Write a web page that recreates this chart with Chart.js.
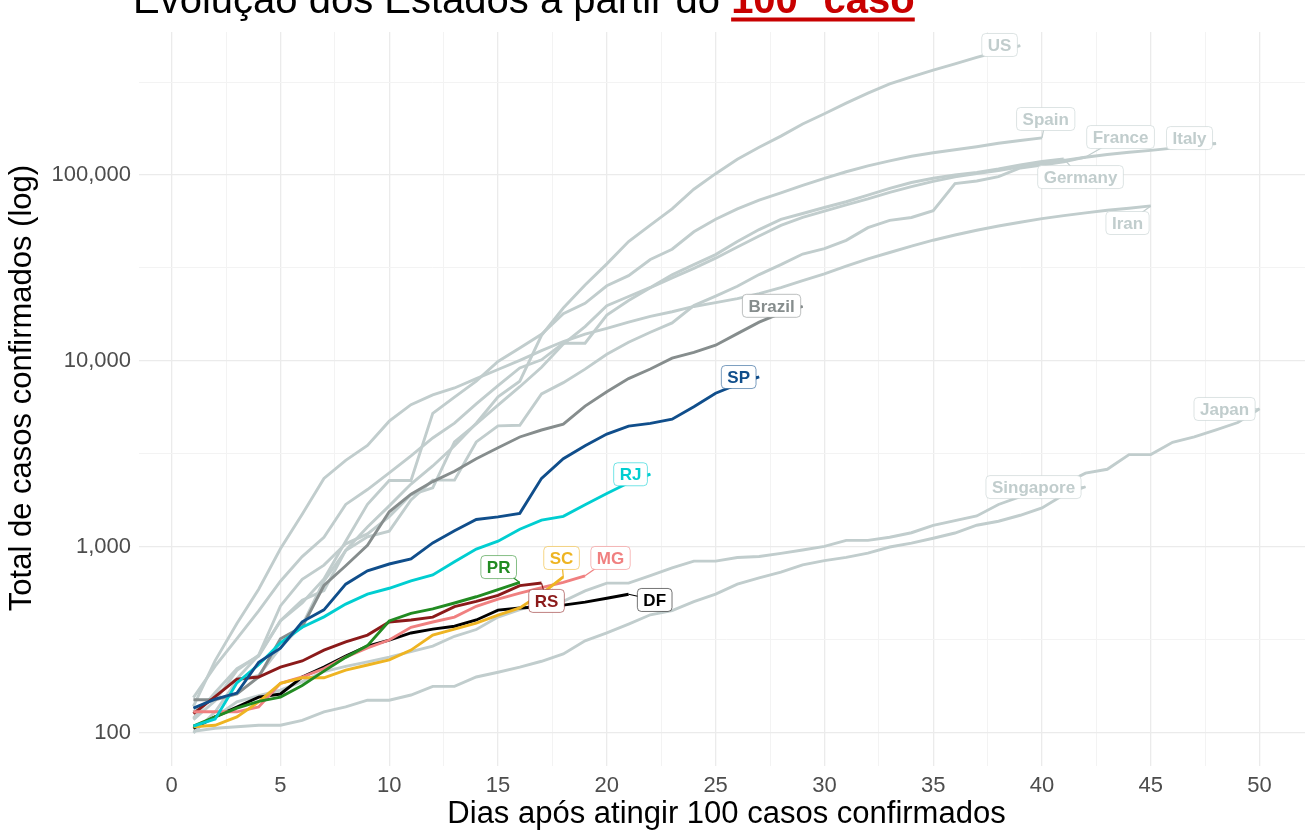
<!DOCTYPE html>
<html>
<head>
<meta charset="utf-8">
<script src="https://cdn.jsdelivr.net/npm/chart.js@4.4.1/dist/chart.umd.min.js"></script>
<style>
  html, body { margin: 0; padding: 0; background: #fff; overflow: hidden; }
  #wrap { position: absolute; left: 0; top: 0; width: 1314px; height: 831px; }
</style>
</head>
<body>
<div id="wrap"><canvas id="chart" width="1314" height="831"></canvas></div>
<script>
// total de casos, dia 1 = primeiro dia com 100+ casos
const spCases = [136, 152, 164, 240, 286, 396, 459, 631, 745, 810, 862, 1052, 1223, 1406, 1451, 1517,
  2339, 2981, 3506, 4048, 4466, 4620, 4866, 5682, 6708, 7480, 8216];
const rjCases = [109, 119, 186, 233, 305, 370, 421, 493, 558, 600, 657, 708, 832, 975, 1074, 1246,
  1394, 1461, 1688, 1938, 2216, 2464];
const prCases = [109, 122, 136, 148, 156, 180, 215, 255, 295, 400, 440, 465, 500, 540, 590, 645];
const scCases = [108, 110, 122, 147, 185, 198, 198, 218, 232, 247, 279, 336, 362, 390, 430, 470, 560, 690];
const mgCases = [130, 130, 130, 138, 185, 200, 222, 256, 287, 316, 370, 395, 420, 480, 525, 565, 605, 645, 700];
const rsCases = [127, 157, 195, 200, 226, 244, 279, 309, 336, 395, 405, 420, 478, 510, 550, 620, 640];
const dfCases = [106, 122, 138, 156, 162, 200, 226, 259, 293, 316, 345, 362, 375, 405, 458, 470, 477,
  487, 505, 530, 557];

const brazilCases = [151, 151, 162, 200, 321, 372, 621, 793, 1021, 1546, 1924, 2247, 2554, 2985, 3417,
  3904, 4256, 4579, 5717, 6836, 8044, 9056, 10360, 11130, 12161, 14034, 16170, 18092, 19638];
const usCases = [118, 149, 217, 262, 402, 518, 583, 959, 1281, 1663, 2179, 2726, 3499, 4632, 6421, 7783,
  13747, 19273, 25600, 33276, 43847, 53740, 65778, 83836, 101657, 121478, 140886, 161807, 188172,
  213372, 243453, 275586, 308850, 337072, 366667, 396223, 429052, 461437, 496535];
const spainCases = [120, 165, 222, 259, 400, 500, 673, 1073, 1695, 2277, 2277, 5232, 6391, 7798, 9942,
  11748, 13910, 17963, 20410, 25374, 28768, 35136, 39885, 49515, 57786, 65719, 73235, 80110, 87956,
  95923, 104118, 112065, 119199, 126168, 131646, 136675, 141942, 148220, 153222, 158273];
const italyCases = [155, 229, 322, 453, 655, 888, 1128, 1694, 2036, 2502, 3089, 3858, 4636, 5883, 7375,
  9172, 10149, 12462, 12462, 17660, 21157, 24747, 27980, 31506, 35713, 41035, 47021, 53578, 59138,
  63927, 69176, 74386, 80589, 86498, 92472, 97689, 101739, 105792, 110574, 115242, 119827, 124632,
  128948, 132547, 135586, 139422, 143626, 147577];
const franceCases = [100, 130, 191, 204, 288, 380, 656, 957, 1134, 1217, 1792, 2289, 2289, 3672, 4480,
  4513, 6650, 7652, 9043, 10871, 12612, 14282, 16018, 19856, 22304, 25233, 29155, 32964, 37575, 40174,
  44550, 52128, 56989, 59105, 64338, 89953, 92839, 98010, 109069, 112950, 117749, 124869];
const germanyCases = [130, 159, 196, 262, 482, 670, 799, 1040, 1176, 1457, 1908, 2078, 3675, 4585, 5795,
  7272, 9257, 12327, 15320, 19848, 22213, 24873, 29056, 32986, 37323, 43938, 50871, 57695, 62095,
  66885, 71808, 77872, 84794, 91159, 96092, 100123, 103374, 107663, 113296, 118181, 122171];
const iranCases = [139, 245, 388, 593, 978, 1501, 2336, 2922, 3513, 4747, 5823, 6566, 7161, 8042, 9000,
  10075, 11364, 12729, 13938, 14991, 16169, 17361, 18407, 19644, 20610, 21638, 23049, 24811, 27017,
  29406, 32332, 35408, 38309, 41495, 44605, 47593, 50468, 53183, 55743, 58226, 60500, 62589, 64586,
  66220, 68192];
const japanCases = [105, 122, 147, 159, 170, 189, 214, 228, 241, 256, 274, 293, 331, 360, 420, 461, 502,
  511, 581, 639, 639, 701, 773, 839, 839, 878, 889, 924, 963, 1007, 1086, 1086, 1128, 1193, 1307, 1387,
  1468, 1693, 1866, 1866, 2178, 2495, 2617, 3139, 3139, 3654, 3906, 4257, 4667, 5530];
const singaporeCases = [102, 106, 108, 110, 110, 117, 130, 138, 150, 150, 160, 178, 178, 200, 212, 226,
  243, 266, 313, 345, 385, 432, 455, 509, 558, 631, 683, 732, 802, 844, 879, 926, 1000, 1049, 1114,
  1189, 1309, 1375, 1481, 1623, 1910, 2108];

// first entries are drawn on top
const seriesNames = ['SP', 'RJ', 'PR', 'SC', 'MG', 'RS', 'DF', 'Brazil',
  'US', 'Spain', 'Italy', 'France', 'Germany', 'Iran', 'Japan', 'Singapore'];
const seriesCases = [spCases, rjCases, prCases, scCases, mgCases, rsCases, dfCases, brazilCases,
  usCases, spainCases, italyCases, franceCases, germanyCases, iranCases, japanCases, singaporeCases];
const grey = '#C1CDCD';
const seriesColors = ['#104E8B', '#00CED1', '#228B22', '#EEB422', '#F08080', '#8B1A1A', '#000000', '#868D8D',
  grey, grey, grey, grey, grey, grey, grey, grey];

// where each name tag sits (day, cases)
const labelDays = [26.06, 21.09, 15.03, 17.92, 20.17, 17.23, 22.2, 27.57,
  38.05, 40.17, 46.78, 43.61, 41.77, 43.93, 48.39, 39.61];
const labelCases = [8200, 2460, 780, 873, 873, 513, 519, 19800,
  500000, 200000, 158000, 160000, 97500, 55200, 5520, 2100];

const yTicks = [100, 316.23, 1000, 3162.3, 10000, 31623, 100000, 316228];
const yMajor = [100, 1000, 10000, 100000];
const xTicks = [];
for (let d = 0; d <= 50; d += 2.5) xTicks.push(d);

const titleText = 'Evolução dos Estados a partir do ';
const titleHighlight = '100º caso';
const yTitle = 'Total de casos confirmados (log)';
const FONT = '"Liberation Sans", Arial, sans-serif';

function alpha(hex, a) {
  const n = parseInt(hex.slice(1), 16);
  return 'rgba(' + (n >> 16) + ',' + ((n >> 8) & 255) + ',' + (n & 255) + ',' + a + ')';
}

const overlay = {
  id: 'overlay',
  afterDatasetsDraw(chart) {
    const ctx = chart.ctx;
    const xs = chart.scales.x, ys = chart.scales.y;
    ctx.save();
    ctx.font = 'bold 17px ' + FONT;
    ctx.textAlign = 'center';
    ctx.textBaseline = 'middle';
    // greys first so state tags stay on top
    for (let i = chart.data.datasets.length - 1; i >= 0; i--) {
      const ds = chart.data.datasets[i];
      const last = ds.data[ds.data.length - 1];
      const px = xs.getPixelForValue(last.x), py = ys.getPixelForValue(last.y);
      const lx = xs.getPixelForValue(labelDays[i]), ly = ys.getPixelForValue(labelCases[i]);
      const w = ctx.measureText(ds.label).width + 12, h = 23;
      ctx.strokeStyle = ds.borderColor;
      ctx.lineWidth = 1.2;
      ctx.beginPath();
      ctx.moveTo(lx, ly);
      ctx.lineTo(px, py);
      ctx.stroke();
      ctx.beginPath();
      ctx.roundRect(lx - w / 2, ly - h / 2, w, h, 4);
      ctx.fillStyle = '#ffffff';
      ctx.fill();
      ctx.strokeStyle = alpha(ds.borderColor, 0.55);
      ctx.lineWidth = 1;
      ctx.stroke();
      ctx.fillStyle = ds.borderColor;
      ctx.fillText(ds.label, lx, ly + 1);
    }
    ctx.restore();
  },
  afterDraw(chart) {
    const ctx = chart.ctx;
    ctx.save();
    ctx.textBaseline = 'alphabetic';
    ctx.textAlign = 'left';
    ctx.font = '40px ' + FONT;
    ctx.fillStyle = '#000';
    const x0 = 133, base = 13;
    ctx.fillText(titleText, x0, base);
    const x1 = x0 + ctx.measureText(titleText).width;
    ctx.font = 'bold 40px ' + FONT;
    ctx.fillStyle = '#C80000';
    ctx.fillText(titleHighlight, x1, base);
    const w = ctx.measureText(titleHighlight).width;
    ctx.fillRect(x1, 17.5, w, 4);

    // y axis title
    ctx.translate(22, 388);
    ctx.rotate(-Math.PI / 2);
    ctx.font = '31px ' + FONT;
    ctx.fillStyle = '#000';
    ctx.textAlign = 'center';
    ctx.textBaseline = 'middle';
    ctx.fillText(yTitle, 0, 0);
    ctx.restore();
  }
};

new Chart(document.getElementById('chart'), {
  type: 'line',
  data: {
    datasets: seriesNames.map((name, i) => ({
      label: name,
      data: seriesCases[i].map((v, d) => ({ x: d + 1, y: v })),
      borderColor: seriesColors[i],
      borderWidth: 2.9,
      pointRadius: 0,
      tension: 0,
      fill: false
    }))
  },
  options: {
    responsive: false,
    animation: false,
    layout: { padding: { top: 32, right: 0, bottom: 0, left: 0 } },
    plugins: {
      legend: { display: false },
      tooltip: { enabled: false }
    },
    scales: {
      x: {
        type: 'linear',
        min: -1.5,
        max: 52.5,
        afterFit: s => { s.height = 65; },
        afterBuildTicks: s => { s.ticks = xTicks.map(v => ({ value: v })); },
        grid: {
          drawTicks: false,
          color: c => (c.tick && c.tick.value % 5 === 0) ? '#EBEBEB' : '#F3F3F3',
          lineWidth: c => (c.tick && c.tick.value % 5 === 0) ? 1.3 : 1
        },
        border: { display: false },
        ticks: {
          padding: 7,
          color: '#4D4D4D',
          font: { family: FONT, size: 22 },
          maxRotation: 0,
          autoSkip: false,
          callback: v => (v % 5 === 0 ? String(v) : '')
        },
        title: {
          display: true,
          text: 'Dias após atingir 100 casos confirmados',
          color: '#000',
          font: { family: FONT, size: 31, lineHeight: 1 },
          padding: { top: 0, bottom: 1 }
        }
      },
      y: {
        type: 'logarithmic',
        min: 66.45,
        max: 587300,
        afterFit: s => { s.width = 139; },
        afterBuildTicks: s => { s.ticks = yTicks.map(v => ({ value: v })); },
        grid: {
          drawTicks: false,
          color: c => (c.tick && yMajor.includes(c.tick.value)) ? '#EBEBEB' : '#F3F3F3',
          lineWidth: c => (c.tick && yMajor.includes(c.tick.value)) ? 1.3 : 1
        },
        border: { display: false },
        ticks: {
          padding: 8,
          color: '#4D4D4D',
          font: { family: FONT, size: 22 },
          autoSkip: false,
          callback: v => (yMajor.includes(v) ? v.toLocaleString('en-US') : '')
        }
      }
    }
  },
  plugins: [overlay]
});
</script>
</body>
</html>
